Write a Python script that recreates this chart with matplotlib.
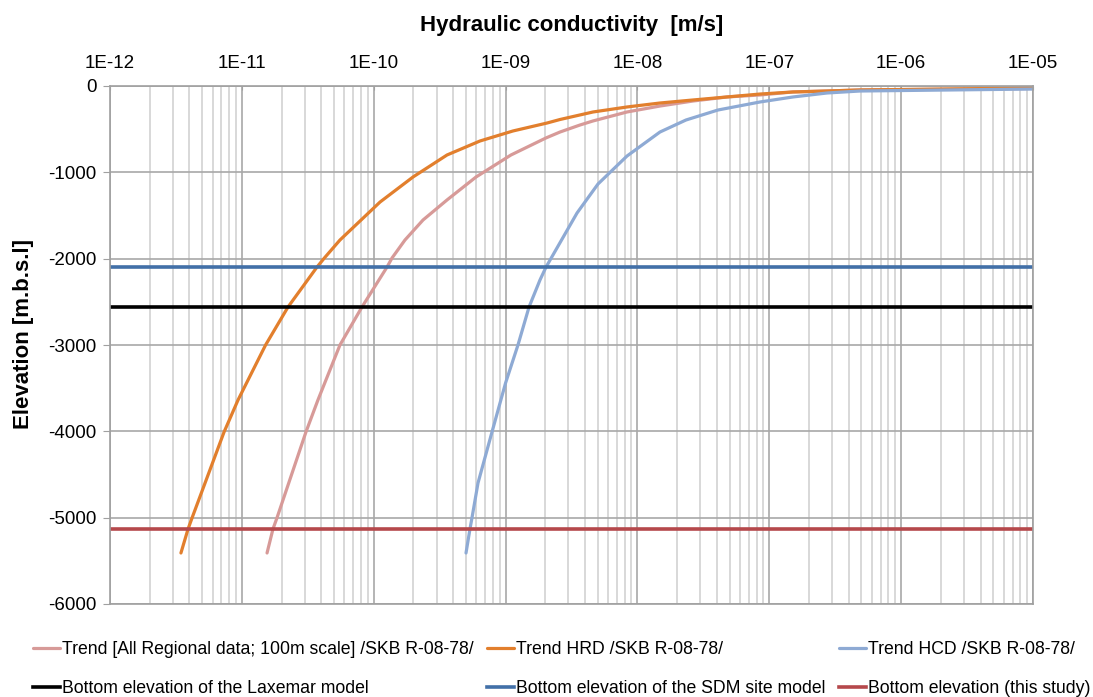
import matplotlib
matplotlib.use("Agg")
from matplotlib import pyplot as plt
from matplotlib import ticker
import numpy as np

plt.rcParams['font.family'] = ['Liberation Sans', 'DejaVu Sans']
plt.rcParams['axes.unicode_minus'] = False

# trend curves, elevation [m] vs log10 of hydraulic conductivity [m/s]
hrd_elev = [-5409, -5131, -5004, -4008, -3637, -3000, -2560, -2097, -1992, -1784,
            -1344, -1054, -799, -637, -521, -429, -388, -301, -243, -197, -162,
            -127, -93, -69, -58, -46, -23]
hrd_logk = [-11.462, -11.408, -11.378, -11.135, -11.029, -10.820, -10.650, -10.430,
            -10.374, -10.256, -9.952, -9.702, -9.444, -9.194, -8.944, -8.686, -8.587,
            -8.337, -8.079, -7.829, -7.579, -7.321, -7.070, -6.820, -6.562, -6.312,
            -5.0]

all_elev = [-5409, -5131, -5004, -4008, -3637, -3000, -2560, -2097, -1992, -1784,
            -1552, -1320, -1054, -799, -602, -533, -452, -405, -301, -232, -174,
            -127, -104, -69, -58, -46, -29]
all_logk = [-10.809, -10.764, -10.734, -10.514, -10.423, -10.256, -10.089, -9.899,
            -9.861, -9.763, -9.626, -9.444, -9.224, -8.959, -8.694, -8.587, -8.436,
            -8.337, -8.079, -7.829, -7.579, -7.321, -7.070, -6.820, -6.562, -6.312,
            -5.0]

hcd_elev = [-5409, -5131, -5004, -4598, -4008, -3440, -3000, -2560, -2247, -2097,
            -1471, -1135, -811, -533, -394, -278, -185, -127, -81, -58, -35]
hcd_logk = [-9.300, -9.270, -9.255, -9.209, -9.103, -9.000, -8.906, -8.822, -8.739,
            -8.693, -8.458, -8.299, -8.079, -7.829, -7.632, -7.389, -7.070, -6.820,
            -6.562, -6.312, -5.0]

# model bottom elevations [m]
laxemar_bottom = -2560
sdm_bottom = -2100
study_bottom = -5130

x_ticks = [1e-12, 1e-11, 1e-10, 1e-9, 1e-8, 1e-7, 1e-6, 1e-5]
y_ticks = [0, -1000, -2000, -3000, -4000, -5000, -6000]

fig = plt.figure(figsize=(10.93, 6.97), dpi=100)
ax = fig.add_axes([110 / 1093, 93 / 697, 923 / 1093, 518 / 697])

ax.set_xscale('log')
ax.set_xlim(1e-12, 1e-5)
ax.set_ylim(-6000, 0)

ax.xaxis.tick_top()
ax.set_xticks(x_ticks)
ax.xaxis.set_major_formatter(ticker.FuncFormatter(lambda v, p: "1E-%02d" % round(-np.log10(v))))
ax.xaxis.set_minor_locator(ticker.LogLocator(base=10, subs=np.arange(2, 10), numticks=20))
ax.xaxis.set_minor_formatter(ticker.NullFormatter())
ax.set_yticks(y_ticks)

ax.grid(True, which='minor', axis='x', color='#d2d2d2', lw=1.2)
ax.grid(True, which='major', axis='x', color='#a8a8a8', lw=1.2)
ax.grid(True, which='major', axis='y', color='#a8a8a8', lw=1.2)
ax.set_axisbelow(True)

ax.tick_params(axis='x', which='major', direction='in', length=3, color='#a0a0a0',
               labelsize=13.5, pad=10.3)
ax.tick_params(axis='x', which='minor', length=0)
ax.tick_params(axis='y', direction='out', length=5, color='#a0a0a0', labelsize=13.5, pad=4.5)
for s in ax.spines.values():
    s.set_color('#a0a0a0')
    s.set_linewidth(1.2)

curve_kw = dict(lw=2.3, solid_joinstyle='round', solid_capstyle='round')
l_all, = ax.plot(10 ** np.array(all_logk), all_elev, color='#d79a98',
                 label='Trend [All Regional data; 100m scale] /SKB R-08-78/', **curve_kw)
l_hrd, = ax.plot(10 ** np.array(hrd_logk), hrd_elev, color='#e27f2d',
                 label='Trend HRD /SKB R-08-78/', **curve_kw)
l_hcd, = ax.plot(10 ** np.array(hcd_logk), hcd_elev, color='#8eaad4',
                 label='Trend HCD /SKB R-08-78/', **curve_kw)

l_lax = ax.axhline(laxemar_bottom, color='black', lw=2.6,
                   label='Bottom elevation of the Laxemar model')
l_sdm = ax.axhline(sdm_bottom, color='#4270a8', lw=2.6,
                   label='Bottom elevation of the SDM site model')
l_st = ax.axhline(study_bottom, color='#b5484b', lw=2.6,
                  label='Bottom elevation (this study)')

fig.text(571.5 / 1093, 1 - 31 / 697, 'Hydraulic conductivity  [m/s]', ha='center',
         va='baseline', fontsize=16, fontweight='bold')
fig.text(24 / 1093, 1 - 334 / 697, 'Elevation [m.b.s.l]', ha='center', va='center',
         rotation=90, fontsize=16, fontweight='bold')

handles = [l_all, l_lax, l_hrd, l_sdm, l_hcd, l_st]
leg = fig.legend(handles, [h.get_label() for h in handles], ncol=3, loc='upper left',
                 bbox_to_anchor=(33 / 1093, 1 - 641 / 697), frameon=False,
                 fontsize=12.7, handlelength=1.53, handletextpad=0.12,
                 columnspacing=0.75, labelspacing=1.24, borderpad=0, borderaxespad=0)

fig.savefig('out.png', dpi=100)
